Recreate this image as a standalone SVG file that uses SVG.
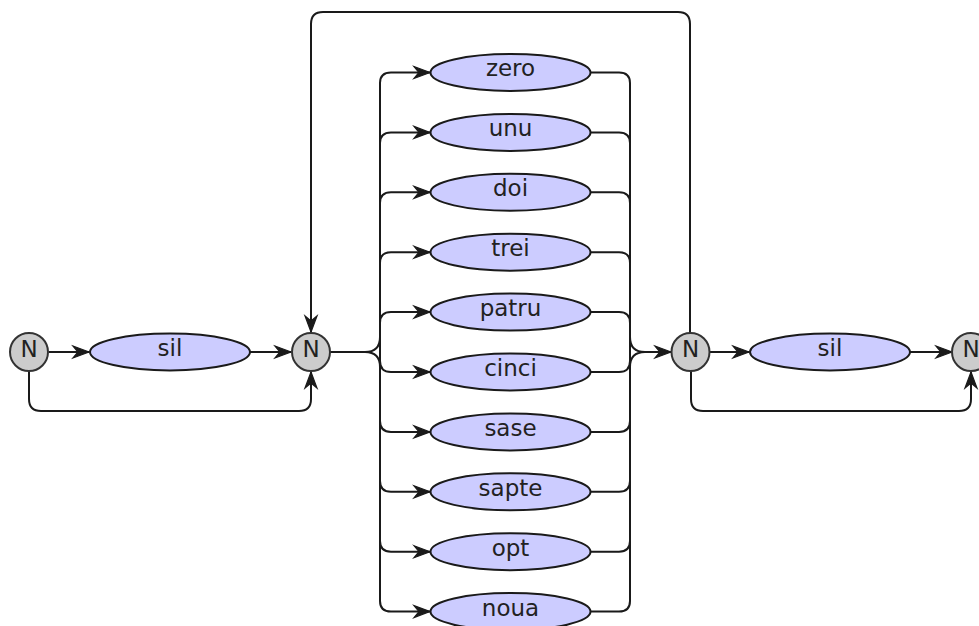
<svg xmlns="http://www.w3.org/2000/svg" width="979" height="626" viewBox="0 0 979 626">
  <defs>
    <marker id="arrow" markerUnits="userSpaceOnUse" markerWidth="20" markerHeight="16" refX="16" refY="6.5" orient="auto" overflow="visible">
      <path d="M0,0.5 L16,6.5 L0,12.5 L5,6.5 Z" fill="#1a1a1a" stroke="#1a1a1a" stroke-width="1.2" stroke-linejoin="miter"/>
    </marker>
    <style>
      .edge { fill: none; stroke: #1a1a1a; stroke-width: 2; }
      .word ellipse { fill: #ccccff; stroke: #1a1a1a; stroke-width: 2; }
      .null circle { fill: #cccccc; stroke: #333333; stroke-width: 2; }
      text { font-family: "DejaVu Sans", "Liberation Sans", sans-serif; font-size: 23px; fill: #222222; text-anchor: middle; }
      .null text { font-size: 23px; }
    </style>
  </defs>

  <!-- connectors -->
  <g id="edges">
    <!-- start: sil or skip -->
    <path class="edge" d="M49,352 L89,352" marker-end="url(#arrow)"/>
    <path class="edge" d="M250,352 L291,352" marker-end="url(#arrow)"/>
    <path class="edge" d="M29,371 L29,399 Q29,411 41,411 L299,411 Q311,411 311,399 L311,372" marker-end="url(#arrow)"/>
    <!-- repeat loop -->
    <path class="edge" d="M690,333 L690,24 Q690,12 678,12 L323,12 Q311,12 311,24 L311,332" marker-end="url(#arrow)"/>
    <!-- fan out to the digits -->
    <path class="edge" d="M330,352 L365,352 Q380,352 380,337 M365,352 Q380,352 380,367"/>
    <path class="edge" d="M380,83 L380,601"/>
    <path class="edge" d="M380,83 Q380,72.5 391,72.5 L430,72.5" marker-end="url(#arrow)"/>
    <path class="edge" d="M380,143 Q380,132.4 391,132.4 L430,132.4" marker-end="url(#arrow)"/>
    <path class="edge" d="M380,203 Q380,192.3 391,192.3 L430,192.3" marker-end="url(#arrow)"/>
    <path class="edge" d="M380,263 Q380,252.2 391,252.2 L430,252.2" marker-end="url(#arrow)"/>
    <path class="edge" d="M380,323 Q380,312.1 391,312.1 L430,312.1" marker-end="url(#arrow)"/>
    <path class="edge" d="M380,361 Q380,372 391,372 L430,372" marker-end="url(#arrow)"/>
    <path class="edge" d="M380,421 Q380,431.9 391,431.9 L430,431.9" marker-end="url(#arrow)"/>
    <path class="edge" d="M380,481 Q380,491.8 391,491.8 L430,491.8" marker-end="url(#arrow)"/>
    <path class="edge" d="M380,541 Q380,551.7 391,551.7 L430,551.7" marker-end="url(#arrow)"/>
    <path class="edge" d="M380,601 Q380,611.6 391,611.6 L430,611.6" marker-end="url(#arrow)"/>
    <!-- fan in from the digits -->
    <path class="edge" d="M630,83 L630,601"/>
    <path class="edge" d="M591,72.5 L619,72.5 Q630,72.5 630,83"/>
    <path class="edge" d="M591,132.4 L619,132.4 Q630,132.4 630,143"/>
    <path class="edge" d="M591,192.3 L619,192.3 Q630,192.3 630,203"/>
    <path class="edge" d="M591,252.2 L619,252.2 Q630,252.2 630,263"/>
    <path class="edge" d="M591,312.1 L619,312.1 Q630,312.1 630,323"/>
    <path class="edge" d="M591,372 L619,372 Q630,372 630,361"/>
    <path class="edge" d="M591,431.9 L619,431.9 Q630,431.9 630,421"/>
    <path class="edge" d="M591,491.8 L619,491.8 Q630,491.8 630,481"/>
    <path class="edge" d="M591,551.7 L619,551.7 Q630,551.7 630,541"/>
    <path class="edge" d="M591,611.6 L619,611.6 Q630,611.6 630,601"/>
    <path class="edge" d="M630,337 Q630,352 645,352 M630,367 Q630,352 645,352"/>
    <path class="edge" d="M645,352 L671,352" marker-end="url(#arrow)"/>
    <!-- end: sil or skip -->
    <path class="edge" d="M710,352 L749,352" marker-end="url(#arrow)"/>
    <path class="edge" d="M910,352 L952,352" marker-end="url(#arrow)"/>
    <path class="edge" d="M691,371 L691,399 Q691,411 703,411 L959,411 Q971,411 971,399 L971,372" marker-end="url(#arrow)"/>
  </g>

  <!-- null nodes -->
  <g id="n0" class="null"><circle cx="29" cy="352" r="19"/><text x="29" y="357">N</text></g>
  <g id="n1" class="null"><circle cx="311" cy="352" r="19"/><text x="311" y="357">N</text></g>
  <g id="n2" class="null"><circle cx="690.5" cy="352" r="19"/><text x="690.5" y="357">N</text></g>
  <g id="n3" class="null"><circle cx="971" cy="352" r="19"/><text x="971" y="357">N</text></g>

  <!-- word nodes -->
  <g id="sil_start" class="word"><ellipse cx="170" cy="352" rx="80" ry="18.5"/><text x="170" y="356">sil</text></g>
  <g id="sil_end" class="word"><ellipse cx="830" cy="352" rx="80" ry="18.5"/><text x="830" y="356">sil</text></g>

  <g id="zero" class="word"><ellipse cx="510.5" cy="72.5" rx="80" ry="18.5"/><text x="510.5" y="76">zero</text></g>
  <g id="unu" class="word"><ellipse cx="510.5" cy="132.4" rx="80" ry="18.5"/><text x="510.5" y="136">unu</text></g>
  <g id="doi" class="word"><ellipse cx="510.5" cy="192.3" rx="80" ry="18.5"/><text x="510.5" y="196">doi</text></g>
  <g id="trei" class="word"><ellipse cx="510.5" cy="252.2" rx="80" ry="18.5"/><text x="510.5" y="256">trei</text></g>
  <g id="patru" class="word"><ellipse cx="510.5" cy="312.1" rx="80" ry="18.5"/><text x="510.5" y="316">patru</text></g>
  <g id="cinci" class="word"><ellipse cx="510.5" cy="372" rx="80" ry="18.5"/><text x="510.5" y="376">cinci</text></g>
  <g id="sase" class="word"><ellipse cx="510.5" cy="431.9" rx="80" ry="18.5"/><text x="510.5" y="436">sase</text></g>
  <g id="sapte" class="word"><ellipse cx="510.5" cy="491.8" rx="80" ry="18.5"/><text x="510.5" y="496">sapte</text></g>
  <g id="opt" class="word"><ellipse cx="510.5" cy="551.7" rx="80" ry="18.5"/><text x="510.5" y="556">opt</text></g>
  <g id="noua" class="word"><ellipse cx="510.5" cy="611.6" rx="80" ry="18.5"/><text x="510.5" y="616">noua</text></g>
</svg>
